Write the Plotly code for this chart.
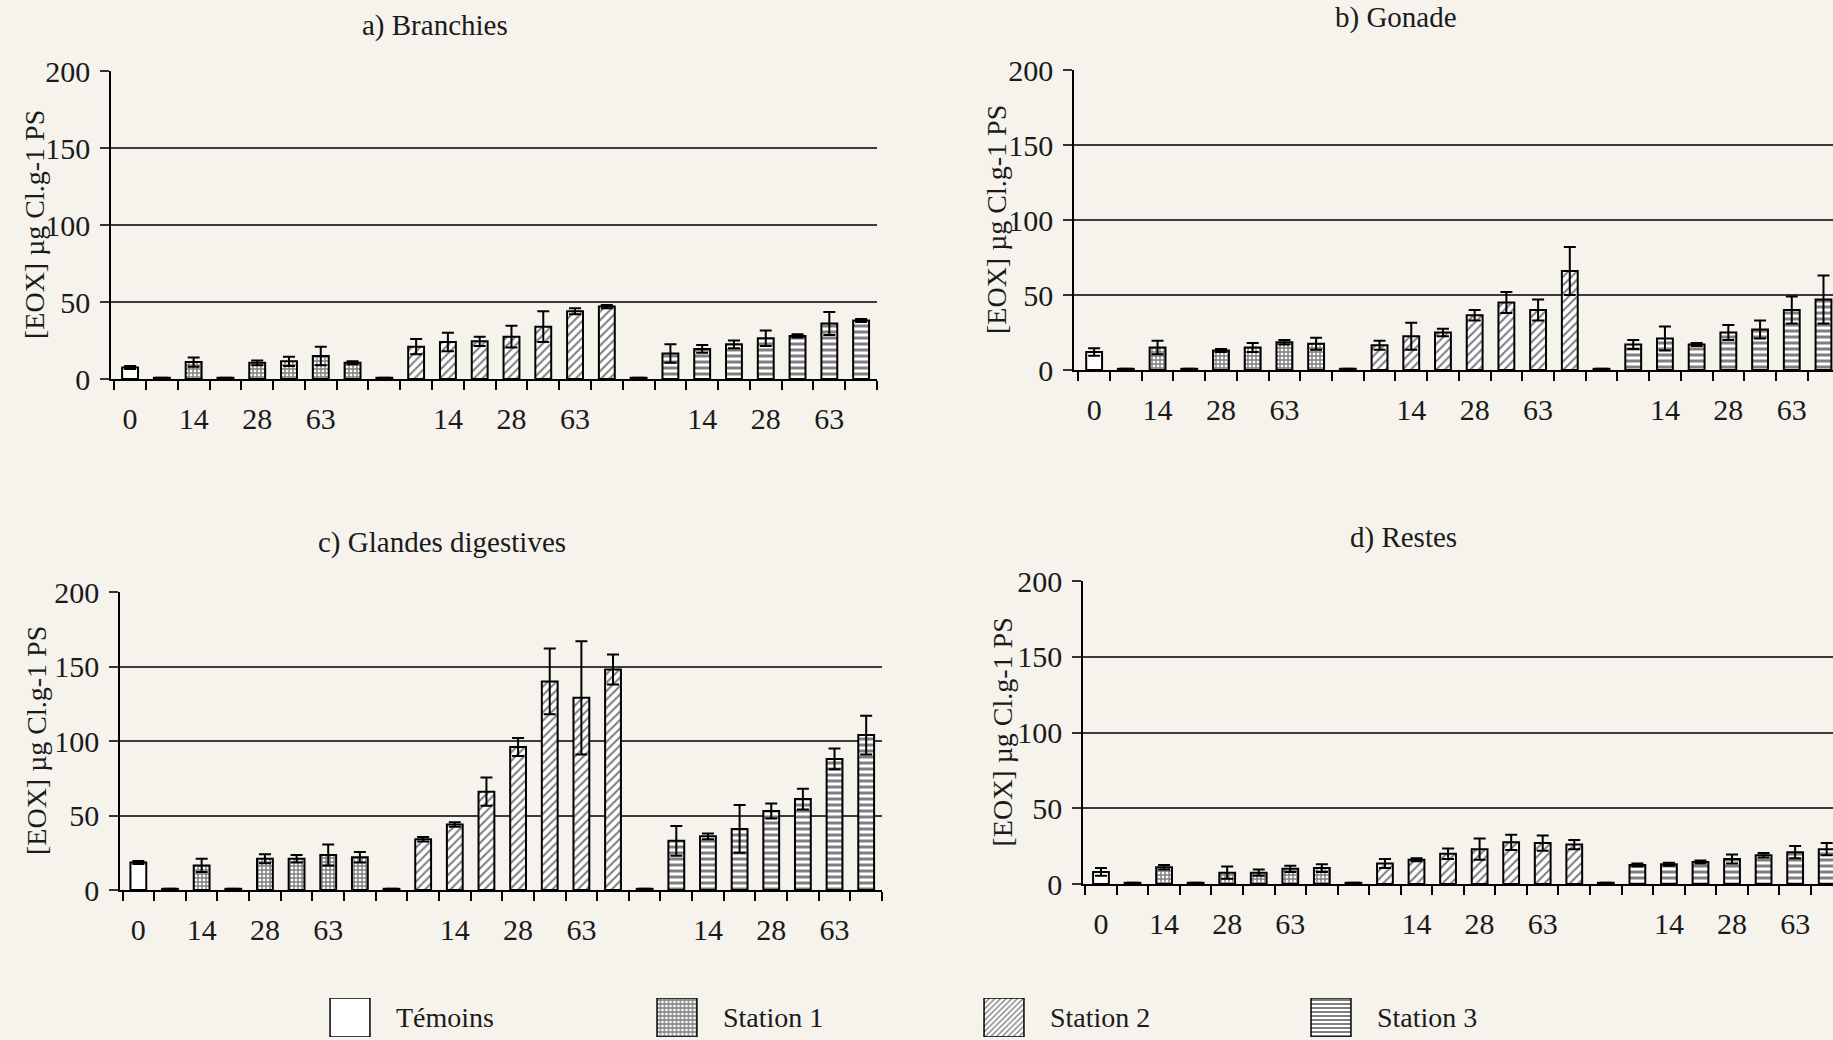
import plotly.graph_objects as go

W, H = 1833, 1040

# ---------------- data ----------------
panel_titles = ["a) Branchies", "b) Gonade", "c) Glandes digestives", "d) Restes"]
series_names = ["Témoins", "Station 1", "Station 2", "Station 3"]
# series of each of the 24 bar slots (slot 1 = control, then stations)
slot_series = [0] + [1] * 7 + [2] * 8 + [3] * 8
tick_positions = [1, 3, 5, 7, 11, 13, 15, 19, 21, 23]
tick_labels = ["0", "14", "28", "63", "14", "28", "63", "14", "28", "63"]
y_ticks = [0, 50, 100, 150, 200]
y_title = "[EOX] µg Cl.g-1 PS"

vals_a = [7.5, 0.8, 11, 0.8, 10.5, 11.5, 15, 10.5, 0.8, 21, 24, 24.5, 27.5, 34, 44, 47,
          0.8, 16.5, 19.5, 22.5, 26.5, 28, 36, 38]
err_a = [1, 0, 3, 0, 1.5, 3, 6, 1, 0, 5, 6, 3, 7, 10, 2, 1,
         0, 6, 2.5, 2.5, 5, 1, 7.5, 1]

vals_b = [12, 0.8, 15, 0.8, 13, 15, 18.5, 17.5, 0.8, 16.5, 22.5, 25, 36.5, 45, 40, 66,
          0.8, 17, 21, 17, 25, 27, 40, 47]
err_b = [2.5, 0, 4.5, 0, 1, 3, 1.5, 4, 0, 3, 9, 2.5, 3.5, 7, 7, 16,
         0, 3, 8, 1, 5, 6, 9, 16]

vals_c = [18.5, 0.8, 16.5, 0.8, 21, 21, 23.5, 22, 0.8, 34, 44, 66, 96, 140, 129, 148,
          0.8, 33, 36, 41, 53, 61, 88, 104]
err_c = [1, 0, 4.5, 0, 3, 2.5, 7, 3.5, 0, 1.5, 1.5, 9.5, 6, 22, 38, 10,
         0, 10, 2, 16, 5, 7, 7, 13]

vals_d = [8, 0.8, 11, 0.8, 7.5, 7.5, 10, 10.5, 0.8, 13.5, 16, 20, 23, 27.5, 27, 26,
          0.8, 12.5, 13, 14.5, 16.5, 19, 21, 23]
err_d = [2.5, 0, 1.5, 0, 4, 2, 2, 2.5, 0, 3, 1, 3.5, 7, 5, 5, 3,
         0, 1, 1, 1, 3, 1.5, 4, 4]

panel_values = [vals_a, vals_b, vals_c, vals_d]
panel_errors = [err_a, err_b, err_c, err_d]

# ---------------- styles ----------------
FONT = "Liberation Serif, Times New Roman, serif"
BG = "#f5f3ec"
INK = "#1a1a1a"
patterns = [
    dict(shape="", fgcolor="black", bgcolor="white"),
    dict(shape="+", size=4, solidity=0.6, fgcolor="black", bgcolor="white"),
    dict(shape="/", size=6, solidity=0.35, fgcolor="black", bgcolor="white"),
    dict(shape="-", size=6, solidity=0.5, fgcolor="black", bgcolor="white"),
]

# panel geometry in pixels: plot-area left/right, top(200)/bottom(0)
panels = [
    dict(x0=111, x1=877, ytop=71, ybot=379, xr=[0.4, 24.5], tx=435, ty=25, yt=34),
    dict(x0=1074, x1=1833, ytop=70, ybot=370, xr=[0.365, 24.3], tx=1396, ty=17, yt=996),
    dict(x0=120, x1=882, ytop=592, ybot=890, xr=[0.42, 24.5], tx=442, ty=542, yt=36),
    dict(x0=1083, x1=1833, ytop=581, ybot=884, xr=[0.43, 24.2], tx=1403, ty=537, yt=1002),
]

fig = go.Figure()
layout = dict(
    width=W, height=H,
    margin=dict(l=0, r=0, t=0, b=0, pad=0, autoexpand=False),
    paper_bgcolor=BG, plot_bgcolor=BG,
    barmode="overlay", showlegend=False,
    font=dict(family=FONT, size=28, color=INK),
)
annotations = []
n_slots = len(slot_series)
boundaries = [i + 0.5 for i in range(n_slots + 1)]

for p, geo in enumerate(panels):
    k = "" if p == 0 else str(p + 1)
    vals = panel_values[p]
    errs = panel_errors[p]
    for s, name in enumerate(series_names):
        idx = [i for i in range(n_slots) if slot_series[i] == s]
        fig.add_trace(go.Bar(
            x=[i + 1 for i in idx], y=[vals[i] for i in idx], name=name,
            width=0.5,
            marker=dict(color="white", line=dict(color="black", width=2),
                        pattern=patterns[s]),
            error_y=dict(type="data", array=[errs[i] for i in idx], symmetric=True,
                         color="black", thickness=2, width=6),
            xaxis="x" + k, yaxis="y" + k,
        ))
    layout["xaxis" + k] = dict(
        domain=[geo["x0"] / W, geo["x1"] / W], anchor="y" + k,
        range=geo["xr"], tickmode="array", tickvals=tick_positions, ticktext=tick_labels,
        ticks="", showgrid=False, zeroline=False, showline=True,
        linecolor="black", linewidth=1.5, ticklabelstandoff=12,
        tickfont=dict(family=FONT, size=30, color=INK),
        minor=dict(tickmode="array", tickvals=boundaries, ticks="outside",
                   ticklen=9, tickwidth=1.5, tickcolor="black", showgrid=False),
    )
    layout["yaxis" + k] = dict(
        domain=[1 - geo["ybot"] / H, 1 - geo["ytop"] / H], anchor="x" + k,
        range=[0, 200], tickmode="array", tickvals=y_ticks,
        ticks="outside", ticklen=9, tickcolor="#333", tickwidth=1.5,
        showgrid=True, gridcolor="#3c3c3c", gridwidth=1.5, zeroline=False,
        showline=True, linecolor="black", linewidth=1.5, ticklabelstandoff=4,
        tickfont=dict(family=FONT, size=30, color=INK),
    )
    annotations.append(dict(
        text=panel_titles[p], x=geo["tx"] / W, y=1 - geo["ty"] / H,
        xref="paper", yref="paper", showarrow=False, xanchor="center", yanchor="middle",
        font=dict(family=FONT, size=29, color=INK)))
    annotations.append(dict(
        text=y_title, x=geo["yt"] / W, y=1 - (geo["ytop"] + geo["ybot"]) / 2 / H,
        xref="paper", yref="paper", showarrow=False, textangle=-90,
        xanchor="center", yanchor="middle",
        font=dict(family=FONT, size=28, color=INK)))

# ---------------- legend row (swatches drawn as bars on a hidden axis) ----------------
leg_idx = list(range(len(series_names)))
for s, name in enumerate(series_names):
    fig.add_trace(go.Bar(
        x=[leg_idx[s]], y=[1], width=0.122, name=name,
        marker=dict(color="white", line=dict(color="black", width=1.5),
                    pattern=dict(patterns[s], size=4)),
        xaxis="x5", yaxis="y5", hoverinfo="skip",
    ))
    annotations.append(dict(
        text=name, x=leg_idx[s] + 0.135, y=0.5, xref="x5", yref="y5",
        showarrow=False, xanchor="left", yanchor="middle",
        font=dict(family=FONT, size=28, color=INK)))
layout["xaxis5"] = dict(domain=[186.5 / W, 1494.5 / W], range=[-0.5, 3.5], anchor="y5",
                        visible=False, fixedrange=True)
layout["yaxis5"] = dict(domain=[1 - 1037 / H, 1 - 998 / H], range=[0, 1], anchor="x5",
                        visible=False, fixedrange=True)

layout["annotations"] = annotations
fig.update_layout(**layout)
fig.write_html(
    "out.html",
    config={"displayModeBar": False},
    post_script="document.body.style.margin='0';document.body.style.background='%s';" % BG,
)
